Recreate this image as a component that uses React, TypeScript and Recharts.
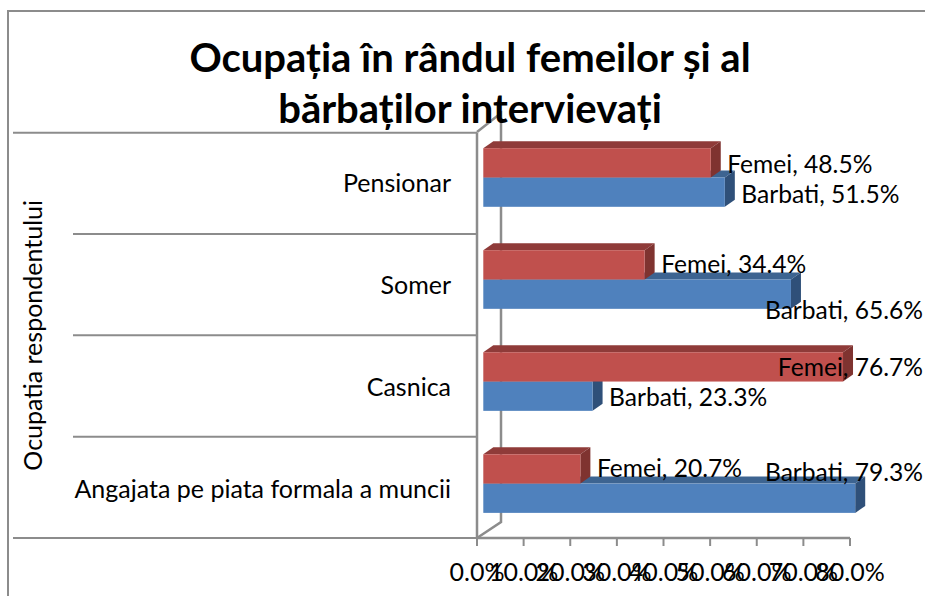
import React from 'react';
import { BarChart, Bar, XAxis, YAxis, LabelList } from 'recharts';

const categories = ['Pensionar', 'Somer', 'Casnica', 'Angajata pe piata formala a muncii'];
const femei = [48.5, 34.4, 76.7, 20.7];
const barbati = [51.5, 65.6, 23.3, 79.3];
const pctTicks = [0, 10, 20, 30, 40, 50, 60, 70, 80];

const chartData = categories.map((name, i) => ({ name, Femei: femei[i], Barbati: barbati[i] }));

const FONT = 'Lato, Carlito, sans-serif';
const GRAY = '#8c8c8c';
const DEPTH_X = 10;
const DEPTH_Y = 7;
const BAR_H = 29.3;
const LIFT = 5.5; // bars sit a bit above the band centre because of the 3D depth
const DRIFT = 0.7; // bar rows step slightly wider than the gridlines in the original
const BAND = 101.3;

// hand placed label baselines, relative to the top of the bar
const femeiDy = [25, 23, 24, 23];
const barbatiDy = [25, 39, 24, -3];

// 3D bar. Series order is swapped so blue paints first, so y gets moved back here.
const bar3d = (front: string, top: string, side: string, shift: number) => (props: any) => {
  const { x, y, width, index } = props;
  const yy = y + shift + index * DRIFT;
  const h = BAR_H;
  const r = x + width;
  return (
    <g>
      <polygon points={`${x},${yy} ${x + DEPTH_X},${yy - DEPTH_Y} ${r + DEPTH_X},${yy - DEPTH_Y} ${r},${yy}`} fill={top} />
      <polygon points={`${r},${yy} ${r + DEPTH_X},${yy - DEPTH_Y} ${r + DEPTH_X},${yy + h - DEPTH_Y} ${r},${yy + h}`} fill={side} />
      <rect x={x} y={yy} width={width} height={h} fill={front} />
    </g>
  );
};

const dataLabel = (series: string, shift: number, dys: number[]) => (props: any) => {
  const { x, y, width, value, index } = props;
  const text = `${series}, ${Number(value).toFixed(1)}%`;
  const start = x + width + 16.5;
  const clamped = start + 157 > 923;
  return (
    <text
      x={clamped ? 923 : start}
      y={y + shift + index * DRIFT + dys[index]}
      textAnchor={clamped ? 'end' : 'start'}
      fontFamily={FONT}
      fontSize={24.6}
      fill="#000"
    >
      {text}
    </text>
  );
};

const CategoryTick = (props: any) => {
  const { y, payload, index } = props;
  const last = index === categories.length - 1;
  return (
    <g>
      {index === 0 && <line x1={13} x2={477} y1={y - BAND / 2} y2={y - BAND / 2} stroke={GRAY} strokeWidth={2} />}
      <line x1={last ? 13 : 73} x2={477} y1={y + BAND / 2} y2={y + BAND / 2} stroke={GRAY} strokeWidth={2} />
      <text x={451} y={y + 9 + index * DRIFT} textAnchor="end" fontFamily={FONT} fontSize={25} fill="#000">
        {payload.value}
      </text>
    </g>
  );
};

// chart frame, back wall and title
const Backdrop = () => (
  <g>
    <polyline points="8,596 8,11 925,11" fill="none" stroke={GRAY} strokeWidth={2} />
    <polyline points="477,538 501,522 501,113 477,132" fill="none" stroke={GRAY} strokeWidth={2.5} />
    <line x1={477} x2={850} y1={538} y2={538} stroke={GRAY} strokeWidth={2.5} />
    <text x={470} y={72} textAnchor="middle" fontFamily={FONT} fontWeight={700} fontSize={40} fill="#000">
      Ocupația în rândul femeilor și al
    </text>
    <text x={470} y={123} textAnchor="middle" fontFamily={FONT} fontWeight={700} fontSize={40} fill="#000">
      bărbaților intervievați
    </text>
  </g>
);

export default function App() {
  return (
    <div style={{ position: 'absolute', left: 0, top: 0, width: 925, height: 596 }}>
      <BarChart
        width={925}
        height={596}
        layout="vertical"
        data={chartData}
        barSize={BAR_H}
        barGap={0}
        margin={{ top: 132.7, right: 59, bottom: 0, left: 13 }}
      >
        <Backdrop />
        <XAxis
          xAxisId="pct"
          type="number"
          domain={[0, 83.43]}
          allowDataOverflow
          ticks={pctTicks}
          interval={0}
          height={58}
          axisLine={false}
          tickSize={8}
          tickMargin={17}
          tickLine={{ stroke: GRAY, strokeWidth: 2 }}
          tick={{ fill: '#000', fontFamily: FONT, fontSize: 25 }}
          tickFormatter={(v: number) => `${v.toFixed(1)}%`}
        />
        <XAxis xAxisId="bars" type="number" domain={[-1.343, 81.6]} height={0} hide />
        <YAxis
          type="category"
          dataKey="name"
          width={464}
          tickLine={false}
          axisLine={{ stroke: GRAY, strokeWidth: 2.5 }}
          tick={CategoryTick}
          interval={0}
          label={{
            value: 'Ocupatia respondentului',
            angle: -90,
            position: 'insideLeft',
            offset: 20,
            style: { fontFamily: FONT, fontSize: 25, fill: '#000', textAnchor: 'middle' },
          }}
        />
        <Bar
          xAxisId="bars"
          dataKey="Barbati"
          isAnimationActive={false}
          shape={bar3d('#4f81bd', '#3d6491', '#2f5079', BAR_H - LIFT)}
        >
          <LabelList dataKey="Barbati" content={dataLabel('Barbati', BAR_H - LIFT, barbatiDy)} />
        </Bar>
        <Bar
          xAxisId="bars"
          dataKey="Femei"
          isAnimationActive={false}
          shape={bar3d('#c0504d', '#8f3b39', '#7f3330', -BAR_H - LIFT)}
        >
          <LabelList dataKey="Femei" content={dataLabel('Femei', -BAR_H - LIFT, femeiDy)} />
        </Bar>
      </BarChart>
    </div>
  );
}
